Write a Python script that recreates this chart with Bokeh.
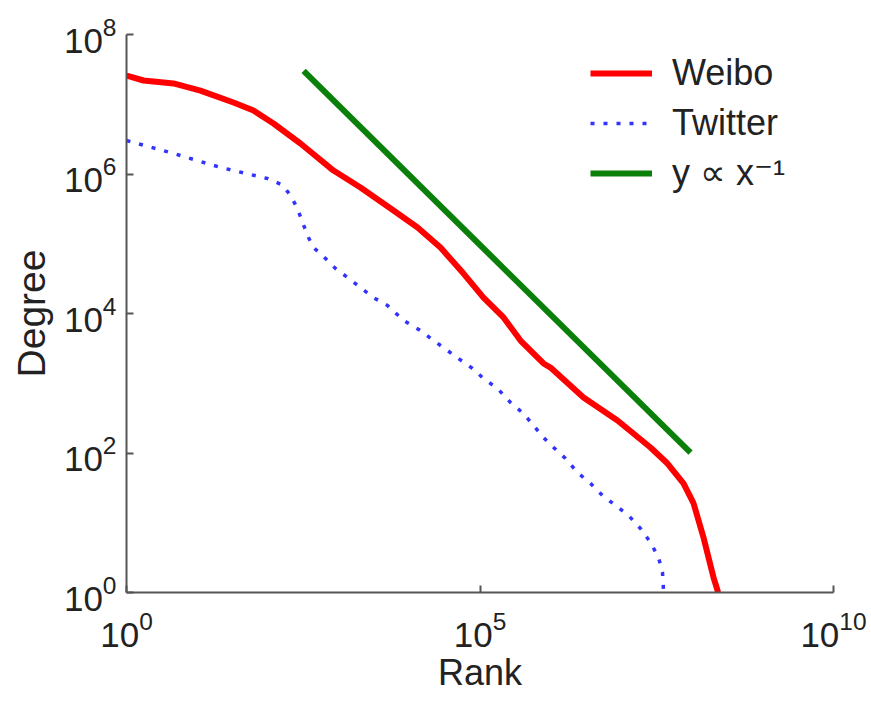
from bokeh.plotting import figure
from bokeh.models import Range1d, FixedTicker, Legend, LegendItem
from bokeh.embed import file_html
from bokeh.resources import INLINE

# ---- data ----
weibo_rank = [1, 1.74, 4.62, 11.1, 32.6, 62.5, 120, 289, 847, 2040, 5980, 13100,
              27600, 58500, 112000, 215000, 374000, 791000, 993000, 2.91e6,
              8.81e6, 2.58e7, 4.49e7, 7.55e7, 1.05e8, 1.45e8, 2.01e8, 2.29e8, 2.34e8]
weibo_degree = [2.58e7, 2.19e7, 1.99e7, 1.57e7, 1.06e7, 8.13e6, 5.30e6, 2.74e6,
                1.12e6, 6.40e5, 3.00e5, 1.71e5, 8.83e4, 3.74e4, 1.69e4, 8770,
                4100, 1920, 1680, 625, 292, 120, 70.6, 36.6, 18.9, 6.15, 1.64, 1.07, 1.0]

twitter_rank = [1, 4.62, 21.4, 98.6, 161, 209, 262, 309, 375, 442, 653, 904, 1340,
                2040, 3120, 4920, 8280, 14400, 22000, 34700, 49600, 78300, 112000,
                177000, 270000, 412000, 571000, 791000, 1.10e6, 1.62e6, 2.39e6,
                3.66e6, 5.41e6, 8.26e6, 1.26e7, 1.86e7, 2.58e7, 3.35e7, 3.81e7,
                3.94e7, 3.95e7]
twitter_degree = [3.02e6, 1.97e6, 1.24e6, 8.61e5, 6.95e5, 4.92e5, 3.20e5, 2.02e5,
                  1.23e5, 8.83e4, 6.15e4, 4.42e4, 3.28e4, 2.36e4, 1.69e4, 1.30e4,
                  7940, 5700, 4100, 2950, 2260, 1630, 1170, 841, 530, 368, 248, 167,
                  120, 83.4, 52.5, 36.6, 24.6, 17.7, 12.7, 8.28, 5.21, 3.18, 1.94,
                  1.07, 1.0]

power_rank = [320, 9.5e7]
power_degree = [3.0e7, 101]

x_ticks = [1, 1e5, 1e10]
y_ticks = [1, 1e2, 1e4, 1e6, 1e8]

series_labels = ["Weibo", "Twitter", "y \u221d x\u207b\u00b9"]

FONT = "Liberation Sans"

p = figure(width=871, height=701, x_axis_type="log", y_axis_type="log",
           x_range=Range1d(1, 1e10), y_range=Range1d(1, 1e8),
           output_backend="svg", toolbar_location=None,
           min_border_left=126, min_border_right=38,
           min_border_top=34, min_border_bottom=109)

p.outline_line_color = None
p.xgrid.visible = False
p.ygrid.visible = False
p.background_fill_color = "white"
p.border_fill_color = "white"

r_weibo = p.line(weibo_rank, weibo_degree, line_color="#ff0000", line_width=6)
r_twitter = p.line(twitter_rank, twitter_degree, line_color="#3333ff",
                   line_width=3.5, line_dash="4 9")
r_power = p.line(power_rank, power_degree, line_color="#0a800a", line_width=6)

p.xaxis.ticker = FixedTicker(ticks=x_ticks)
p.yaxis.ticker = FixedTicker(ticks=y_ticks)

for ax in (p.xaxis[0], p.yaxis[0]):
    ax.axis_line_color = "#555555"
    ax.axis_line_width = 2
    ax.major_tick_line_color = "#555555"
    ax.major_tick_line_width = 2
    ax.major_tick_in = 7
    ax.major_tick_out = 0
    ax.minor_tick_in = 0
    ax.minor_tick_out = 0
    ax.major_label_text_font = FONT
    ax.major_label_text_font_size = "35px"
    ax.major_label_text_color = "#222222"
    ax.axis_label_text_font = FONT
    ax.axis_label_text_font_style = "normal"
    ax.axis_label_text_color = "#222222"

p.xaxis.axis_label = "Rank"
p.yaxis.axis_label = "Degree"
p.xaxis.axis_label_text_font_size = "36px"
p.yaxis.axis_label_text_font_size = "39px"
p.xaxis.major_label_standoff = 18
p.yaxis.major_label_standoff = 10
p.xaxis.axis_label_standoff = 2
p.yaxis.axis_label_standoff = 8

legend = Legend(items=[
    LegendItem(label=series_labels[0], renderers=[r_weibo]),
    LegendItem(label=series_labels[1], renderers=[r_twitter]),
    LegendItem(label=series_labels[2], renderers=[r_power]),
], location=(464, 398))
legend.border_line_color = None
legend.background_fill_alpha = 0
legend.padding = 0
legend.margin = 0
legend.glyph_width = 62
legend.glyph_height = 40
legend.label_height = 40
legend.spacing = 8
legend.label_standoff = 20
legend.label_text_font = FONT
legend.label_text_font_size = "36px"
legend.label_text_baseline = "alphabetic"
legend.label_text_color = "#222222"
p.add_layout(legend, "center")

open("out.html", "w").write(file_html(p, INLINE))
